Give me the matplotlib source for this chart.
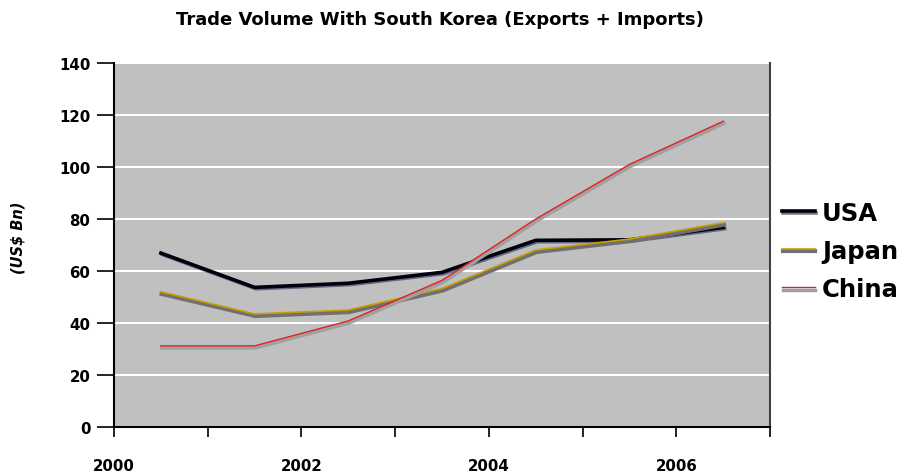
import matplotlib
matplotlib.use("Agg")
import matplotlib.pyplot as plt
import matplotlib.patheffects as pe
from matplotlib.lines import Line2D

plt.rcParams['font.family'] = ['DejaVu Sans']

years = [2000.5, 2001.5, 2002.5, 2003.5, 2004.5, 2005.5, 2006.5]
usa = [66.9, 53.7, 55.3, 59.5, 71.8, 72.0, 76.8]
japan = [52.0, 43.5, 45.0, 53.3, 68.1, 72.3, 78.6]
china = [31.2, 31.2, 40.8, 56.4, 80.0, 101.0, 117.6]
series_names = ['USA', 'Japan', 'China']

fig = plt.figure(figsize=(9.05, 4.77), dpi=100)
ax = fig.add_axes([0.126, 0.1027, 0.725, 0.7631])
ax.set_facecolor('#C0C0C0')

ax.set_xlim(2000, 2007)
ax.set_ylim(0, 140)
ax.set_yticks(range(0, 141, 20))
ax.set_xticks(range(2000, 2008))
ax.set_xticklabels([str(y) if y % 2 == 0 else '' for y in range(2000, 2008)])
ax.grid(axis='y', color='white', linewidth=1.5)
ax.set_axisbelow(True)

for s in ['left', 'bottom']:
    ax.spines[s].set_color('black')
    ax.spines[s].set_linewidth(1.5)
ax.spines['top'].set_visible(False)
ax.spines['right'].set_color('#404040')
ax.spines['right'].set_linewidth(1.5)

ax.tick_params(axis='y', length=12, width=1.2, pad=5, labelsize=10.8)
ax.tick_params(axis='x', length=7, width=1.2, pad=15, labelsize=10.8)
for lab in ax.get_xticklabels() + ax.get_yticklabels():
    lab.set_fontweight('bold')

shadow_usa = [pe.SimpleLineShadow(offset=(1, -1), shadow_color='#404060', alpha=0.7), pe.Normal()]
shadow_jp = [pe.Stroke(linewidth=3, foreground='#707070', offset=(0.5, -1.5)), pe.Normal()]
shadow_cn = [pe.Stroke(linewidth=2.5, foreground='#A0A0A0', offset=(0.5, -1.5)), pe.Normal()]

ax.plot(years, usa, color='#000010', linewidth=2.6, path_effects=shadow_usa)
ax.plot(years, japan, color='#C8A000', linewidth=1.2, path_effects=shadow_jp)
ax.plot(years, china, color='#E02020', linewidth=1.0, path_effects=shadow_cn)

handles = [
    Line2D([], [], color='#000010', linewidth=2.6, path_effects=shadow_usa),
    Line2D([], [], color='#C8A000', linewidth=1.2, path_effects=shadow_jp),
    Line2D([], [], color='#E02020', linewidth=1.0, path_effects=shadow_cn),
]
leg = fig.legend(handles, series_names, loc='center left', bbox_to_anchor=(0.864, 0.472),
                 frameon=False, prop={'weight': 'bold', 'size': 17.5},
                 handlelength=1.35, handletextpad=0.3, labelspacing=0.58,
                 borderaxespad=0, borderpad=0)

fig.text(0.486, 0.958, 'Trade Volume With South Korea (Exports + Imports)',
         ha='center', va='center', fontsize=13, fontweight='bold')
fig.text(0.02, 0.501, '(US$ Bn)', rotation=90, ha='center', va='center',
         fontsize=10.5, fontweight='bold', fontstyle='italic')

fig.savefig('out.png', dpi=100)
